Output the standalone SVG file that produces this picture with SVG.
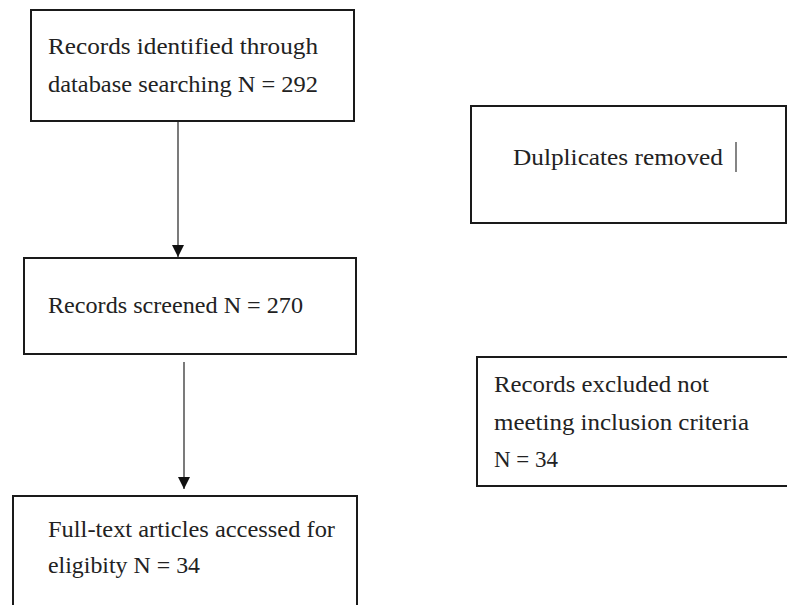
<svg xmlns="http://www.w3.org/2000/svg" width="787" height="605" viewBox="0 0 787 605">
<style>
.box{fill:#fff;stroke:#1a1a1a;stroke-width:2}
.t{font-family:"Liberation Serif","Times New Roman",serif;font-size:23px;fill:#222}
.c{stroke:#222;stroke-width:1.2;fill:none}
</style>
<defs>
<marker id="ah" markerUnits="userSpaceOnUse" markerWidth="12" markerHeight="12" refX="12" refY="6" orient="auto">
<path d="M0,0 L12,6 L0,12 Z" fill="#111"/>
</marker>
</defs>
<rect width="787" height="605" fill="#fff"/>
<g id="n1">
<rect class="box" x="31" y="10" width="323" height="111"/>
<text class="t" x="48" y="54" textLength="270" lengthAdjust="spacingAndGlyphs">Records identified through</text>
<text class="t" x="48" y="92" textLength="270" lengthAdjust="spacingAndGlyphs">database searching N = 292</text>
</g>
<g id="n2">
<rect class="box" x="471" y="106" width="315" height="117"/>
<text class="t" x="513" y="165" textLength="210" lengthAdjust="spacingAndGlyphs">Dulplicates removed</text>
<line x1="736" y1="142" x2="736" y2="172" stroke="#333" stroke-width="1.2"/>
</g>
<g id="n3">
<rect class="box" x="24" y="258" width="332" height="96"/>
<text class="t" x="48" y="313" textLength="255" lengthAdjust="spacingAndGlyphs">Records screened N = 270</text>
</g>
<g id="n4">
<rect class="box" x="477" y="357" width="320" height="129"/>
<text class="t" x="494" y="392" textLength="215" lengthAdjust="spacingAndGlyphs">Records excluded not</text>
<text class="t" x="494" y="430" textLength="255" lengthAdjust="spacingAndGlyphs">meeting inclusion criteria</text>
<text class="t" x="494" y="467" textLength="64" lengthAdjust="spacingAndGlyphs">N = 34</text>
</g>
<g id="n5">
<rect class="box" x="13" y="496" width="344" height="120"/>
<text class="t" x="48" y="537" textLength="287" lengthAdjust="spacingAndGlyphs">Full-text articles accessed for</text>
<text class="t" x="48" y="573" textLength="152" lengthAdjust="spacingAndGlyphs">eligibity N = 34</text>
</g>
<g id="connectors">
<line class="c" x1="178" y1="122" x2="178" y2="257" marker-end="url(#ah)"/>
<line class="c" x1="184" y1="362" x2="184" y2="489" marker-end="url(#ah)"/>
</g>
</svg>
